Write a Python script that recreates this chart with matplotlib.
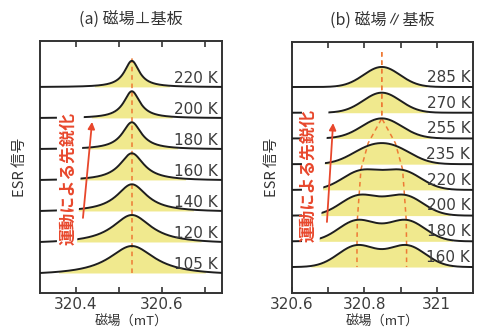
import numpy as np
import matplotlib
matplotlib.use("Agg")
import matplotlib.pyplot as plt
from matplotlib.patches import Polygon

plt.rcParams['font.family'] = ['DejaVu Sans', 'Noto Sans CJK JP']
JP = ['Noto Sans CJK JP', 'DejaVu Sans']

# (a) field perpendicular to substrate: single line that narrows on warming
temps_a = [105, 120, 140, 160, 180, 200, 220]
center_a = 320.53
fwhm_a = [0.13, 0.11, 0.086, 0.068, 0.054, 0.046, 0.042]
height_a = [0.87, 0.87, 0.86, 0.86, 0.86, 0.86, 0.84]

# (b) field parallel to substrate: two lines that merge on warming
temps_b = [160, 180, 200, 220, 235, 255, 270, 285]
center_b = 320.848
split_b = [0.137, 0.135, 0.125, 0.115, 0.075, 0.0, 0.0, 0.0]
sigma_b = [0.052, 0.052, 0.052, 0.052, 0.052, 0.055, 0.051, 0.05]
height_b = [0.86, 0.84, 0.82, 0.80, 0.82, 0.78, 0.78, 0.78]

line_c = '#1e1e1e'
fill_c = '#f0e98e'
dash_c = '#ee7a35'
red_c = '#e8472c'
lab_c = '#3c3c3c'

fig = plt.figure(figsize=(4.82, 3.29), dpi=100)
axa = fig.add_axes([40/482, 1-293/329, 182/482, 252/329])
axb = fig.add_axes([292/482, 1-293/329, 181/482, 251/329])


def style(ax, xlim, ylim, major, labels, minor):
    ax.set_xlim(*xlim)
    ax.set_ylim(*ylim)
    ax.set_xticks(major, labels=labels)
    ax.set_xticks(minor, minor=True)
    ax.set_yticks([])
    ax.tick_params(axis='x', which='both', direction='in', top=True, length=4,
                   width=1.2, color='#333333', pad=3, labelsize=11, labelcolor=lab_c)
    for s in ax.spines.values():
        s.set_linewidth(1.4)
        s.set_color('#333333')


# panel a
x = np.linspace(320.316, 320.74, 600)
for i, (t, w, h) in enumerate(zip(temps_a, fwhm_a, height_a)):
    y = 1.0 / (1.0 + ((x - center_a) / (w / 2)) ** 2)
    y = h * (y - y.min()) / (y.max() - y.min())
    axa.fill_between(x, i, i + y, where=y > 0.045 * h, color=fill_c, lw=0, zorder=1)
    axa.plot(x, i + y, color=line_c, lw=1.4, zorder=3)
    axa.text(0.978, i + 0.13, f'{t} K', transform=axa.get_yaxis_transform(),
             ha='right', va='baseline', fontsize=11, color=lab_c, zorder=5)
axa.plot([center_a, center_a], [0, 7.03], color=dash_c, lw=1.1, ls=(0, (3, 2.5)), zorder=2)
style(axa, (320.316, 320.74), (-0.645, 7.48), [320.4, 320.6], ['320.4', '320.6'],
      [320.5, 320.7])

# panel b
x = np.linspace(320.6, 321.1, 600)
for i, (t, s, sg, h) in enumerate(zip(temps_b, split_b, sigma_b, height_b)):
    y = (np.exp(-(x - center_b + s / 2) ** 2 / (2 * sg ** 2)) +
         np.exp(-(x - center_b - s / 2) ** 2 / (2 * sg ** 2)))
    y = h * (y - y.min()) / (y.max() - y.min())
    axb.fill_between(x, i, i + y, where=y > 0.045 * h, color=fill_c, lw=0, zorder=1)
    axb.plot(x, i + y, color=line_c, lw=1.4, zorder=3)
    axb.text(0.985, i + 0.2, f'{t} K', transform=axb.get_yaxis_transform(),
             ha='right', va='baseline', fontsize=11, color=lab_c, zorder=5)
n = len(temps_b)
for sign in (-1, 1):
    px = [center_b] + [center_b + sign * split_b[k] / 2 for k in range(n - 1, -1, -1)]
    py = [8.36] + [k + height_b[k] for k in range(n - 1, -1, -1)]
    px.append(px[-1])
    py.append(0)
    axb.plot(px, py, color=dash_c, lw=1.1, ls=(0, (3, 2.5)), zorder=2)
style(axb, (320.6, 321.1), (-1.01, 8.75), [320.6, 320.8, 321.0],
      ['320.6', '320.8', '321'], [320.7, 320.9])

# white gap with the annotation
for ax, poly, tx, ty, a0, a1 in [
        (axa, [(0.093, 0.187), (0.203, 0.187), (0.242, 0.718), (0.093, 0.718)],
         0.154, 0.456, (0.236, 0.298), (0.286, 0.679)),
        (axb, [(0.055, 0.171), (0.149, 0.171), (0.204, 0.749), (0.055, 0.749)],
         0.088, 0.47, (0.193, 0.283), (0.227, 0.677))]:
    ax.add_patch(Polygon(poly, closed=True, transform=ax.transAxes, facecolor='white',
                         edgecolor='none', zorder=4))
    ax.text(tx, ty, '運動による先鋭化', transform=ax.transAxes, rotation=90,
            ha='center', va='center', fontsize=12, fontweight='bold', color=red_c,
            family=JP, zorder=6)
    ax.annotate('', xy=a1, xytext=a0, xycoords='axes fraction',
                arrowprops=dict(arrowstyle='-|>', color=red_c, lw=1.3,
                                mutation_scale=10, shrinkA=0, shrinkB=0), zorder=6)

for ax, title in [(axa, '(a) 磁場⊥基板'), (axb, '(b) 磁場∥基板')]:
    ax.text(0.5, 1 + 21 / 252, title, transform=ax.transAxes, ha='center', va='center',
            fontsize=11.5, family=JP, color='#333333')
    ax.text(0.5, -29 / 252, '磁場（mT）', transform=ax.transAxes, ha='center',
            va='center', fontsize=9.5, family=JP, color='#333333')
    ax.text(-20 / 182, 0.5, 'ESR 信号', transform=ax.transAxes, ha='center',
            va='center', rotation=90, fontsize=10.5, family=JP, color='#333333')

fig.savefig('out.png', dpi=100)
